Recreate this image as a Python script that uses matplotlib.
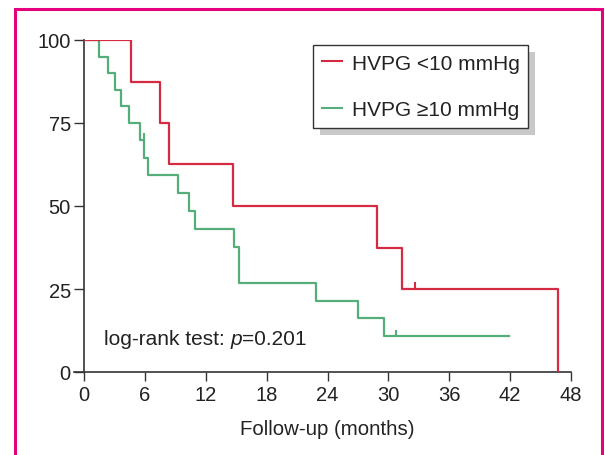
import matplotlib
matplotlib.use("Agg")
import matplotlib.pyplot as plt
from matplotlib.patches import Rectangle
from matplotlib.transforms import IdentityTransform

plt.rcParams['font.family'] = ['Liberation Sans', 'DejaVu Sans']

# Data
red_label = "HVPG <10 mmHg"
red_times = [0, 4.6, 7.5, 8.4, 14.7, 28.9, 31.3, 46.7]
red_surv = [100, 87.5, 75, 62.5, 50, 37.5, 25, 0]
red_censor_t = [32.6]
red_censor_s = [25]

green_label = "HVPG \u226510 mmHg"
green_times = [0, 1.5, 2.4, 3.1, 3.6, 4.4, 5.5, 5.9, 6.3, 9.3, 10.3, 10.9,
               14.8, 15.3, 22.9, 27.0, 29.6, 41.9]
green_surv = [100, 95, 90, 85, 80, 75, 70, 64.6, 59.2, 53.8, 48.5, 43.1,
              37.7, 26.9, 21.5, 16.2, 10.8, 10.8]
green_censor_t = [5.9, 30.8]
green_censor_s = [70, 10.8]

xticks = [0, 6, 12, 18, 24, 30, 36, 42, 48]
yticks = [0, 25, 50, 75, 100]

RED = '#d42a42'
GREEN = '#55ad7a'
AX = '#333333'
TXT = '#222222'

fig = plt.figure(figsize=(6.05, 4.56), dpi=100)
ax = fig.add_axes([84/605, 1-373/456, 487/605, 332/456])

ax.step(green_times, green_surv, where='post', color=GREEN, lw=1.6, label=green_label, zorder=3)
ax.step(red_times, red_surv, where='post', color=RED, lw=1.6, label=red_label, zorder=4)
ax.vlines(green_censor_t, green_censor_s, [s + 2 for s in green_censor_s], color=GREEN, lw=1.5, zorder=3)
ax.vlines(red_censor_t, red_censor_s, [s + 2 for s in red_censor_s], color=RED, lw=1.5, zorder=4)

ax.set_xlim(0, 48)
ax.set_ylim(0, 100)
ax.set_xticks(xticks)
ax.set_yticks(yticks)
ax.tick_params(axis='both', direction='out', labelsize=14.5, color=AX, labelcolor=TXT, width=1)
ax.tick_params(axis='y', length=7.5, pad=2)
ax.tick_params(axis='x', length=6.5, pad=3)
for s in ['top', 'right']:
    ax.spines[s].set_visible(False)
for s in ['left', 'bottom']:
    ax.spines[s].set_color(AX)
    ax.spines[s].set_linewidth(1.2)
ax.spines['bottom'].set_bounds(-1.0, 48)
ax.spines['bottom'].set_clip_on(False)

ax.set_xlabel("Follow-up (months)", fontsize=14.7, color=TXT, labelpad=11)

# annotation: "log-rank test: p=0.201" with italic p
FS = 15
t0 = ax.text(2.0, 10, "log-rank test: ", fontsize=FS, color=TXT, va='center', ha='left')
fig.canvas.draw()
bb = t0.get_window_extent()
xend = ax.transData.inverted().transform((bb.x1, bb.y0))[0]
tp = ax.text(xend, 10, "p", fontsize=FS, style='italic', color=TXT, va='center', ha='left')
fig.canvas.draw()
bb2 = tp.get_window_extent()
xend2 = ax.transData.inverted().transform((bb2.x1, bb2.y0))[0]
ax.text(xend2, 10, "=0.201", fontsize=FS, color=TXT, va='center', ha='left')

handles, labels = ax.get_legend_handles_labels()
order = [labels.index(red_label), labels.index(green_label)]
leg = ax.legend([handles[i] for i in order], [labels[i] for i in order],
                loc='upper left', bbox_to_anchor=(0.470, 0.985), borderaxespad=0,
                fontsize=15, frameon=True, fancybox=False, edgecolor=AX, framealpha=1,
                handlelength=1.0, handletextpad=0.45, labelspacing=1.3,
                borderpad=0.42)
leg.get_frame().set_linewidth(1.0)
for t in leg.get_texts():
    t.set_color(TXT)
for h in leg.get_lines():
    h.set_linewidth(1.5)
leg.set_zorder(6)
fig.canvas.draw()
lb = leg.get_window_extent()
shadow = Rectangle((lb.x0 + 7, lb.y0 - 7), lb.width, lb.height, transform=IdentityTransform(),
                   facecolor='#c8c8c8', edgecolor='none', zorder=5.5, clip_on=False)
ax.add_artist(shadow)

frame = Rectangle((15/605, -0.1), (602-15)/605, 1 - 10/456 + 0.1, transform=fig.transFigure,
                  fill=False, edgecolor='#e5007d', lw=2.2, clip_on=False)
fig.patches.append(frame)

fig.savefig("out.png", dpi=100)
